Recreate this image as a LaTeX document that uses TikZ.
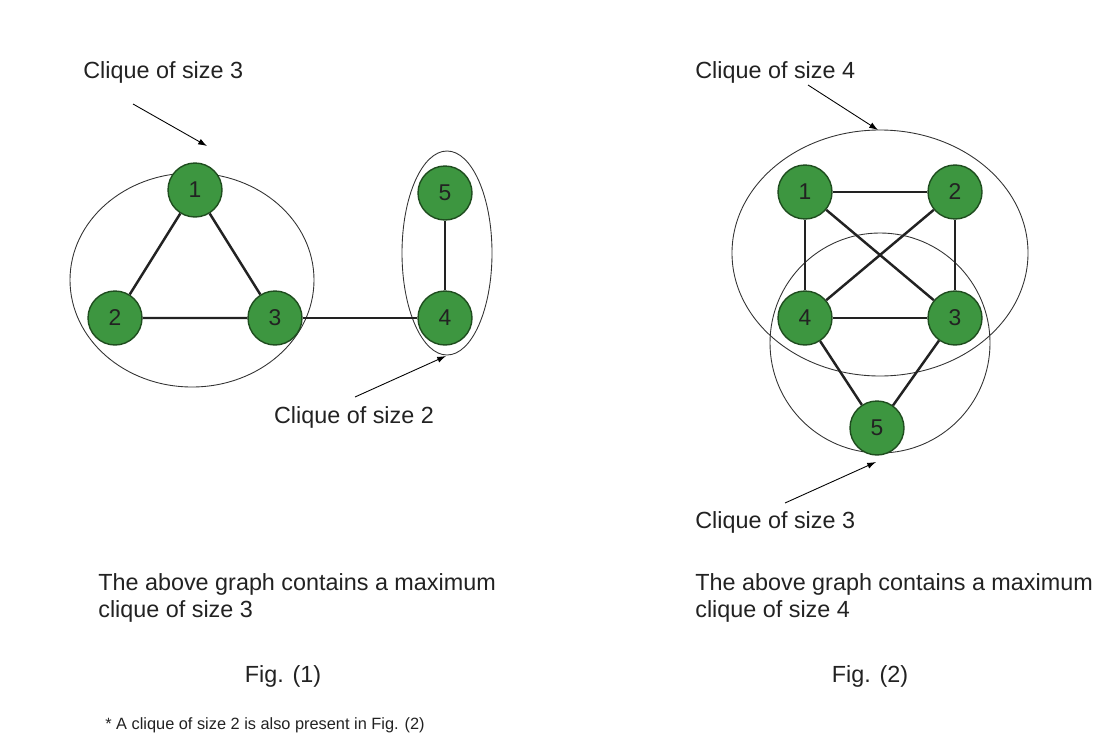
\documentclass[tikz,border=0pt]{standalone}
\usepackage{fontspec}
\setmainfont{Liberation Sans}
\usetikzlibrary{arrows.meta}
\definecolor{vgreen}{HTML}{3D9640}
\definecolor{vedge}{HTML}{1F4D1F}
\definecolor{ink}{HTML}{222222}
\tikzset{
  vertex/.style={circle,draw=vedge,fill=vgreen,line width=0.8pt,
    minimum size=1.08cm,inner sep=0pt,text=ink,font=\fontsize{13}{15}\selectfont},
  link/.style={line width=1.4pt,draw=ink},
  hull/.style={line width=0.5pt,draw=black!80},
  pointer/.style={line width=0.5pt,-{Latex[length=5pt,width=3.5pt]}},
  label/.style={font=\fontsize{13.3}{16}\selectfont,inner sep=0pt,text=ink},
}
\begin{document}
\begin{tikzpicture}[x=0.02cm,y=-0.02cm]
  \useasboundingbox (0,0) rectangle (1118,750);
  % Fig. (1)
  \draw[hull] (192,280) ellipse (122 and 107);
  \draw[hull] (447,253) ellipse (45 and 102);
  \coordinate (one) at (195,190);
  \coordinate (two) at (115,318);
  \coordinate (three) at (275,318);
  \coordinate (four) at (445,318);
  \coordinate (five) at (445,193);
  \foreach \n/\t in {one/1,two/2,three/3,four/4,five/5}
    \node[vertex] (a\n) at (\n) {\t};
  \draw[link] (aone) -- (atwo) -- (athree) -- (aone);
  \draw[link] (athree) -- (afour) -- (afive);
  \node[label,anchor=west] (ta) at (83,72) {Clique of size 3};
  \node[label] (tb) at (354,417) {Clique of size 2};
  \coordinate (ha) at (207,146);
  \coordinate (hb) at (446,356);
  \draw[pointer] (133,104) -- (ha);
  \draw[pointer] (355,397) -- (hb);
  \node[label,anchor=west,align=left] (capa) at (98,598)
    {The above graph contains a maximum\\[-1pt]clique of size 3};
  \node[label] (figa) at (283,676) {Fig. (1)};
  \node[anchor=west,inner sep=0pt,text=ink,font=\fontsize{9.3}{11}\selectfont] (note) at (105,725)
    {* A clique of size 2 is also present in Fig. (2)};
  % Fig. (2)
  \draw[hull] (880,253) ellipse (148 and 123);
  \draw[hull] (880,343) circle (110);
  \coordinate (one) at (805,192);
  \coordinate (two) at (955,192);
  \coordinate (three) at (955,318);
  \coordinate (four) at (805,318);
  \coordinate (five) at (877,428);
  \foreach \n/\t in {one/1,two/2,three/3,four/4,five/5}
    \node[vertex] (b\n) at (\n) {\t};
  \draw[link] (bone) -- (btwo) -- (bthree) -- (bfour) -- (bone);
  \draw[link] (bone) -- (bthree);
  \draw[link] (btwo) -- (bfour);
  \draw[link] (bfour) -- (bfive) -- (bthree);
  \node[label,anchor=west] (tc) at (695,72) {Clique of size 4};
  \node[label,anchor=west] (td) at (695,522) {Clique of size 3};
  \coordinate (hc) at (878,130);
  \coordinate (hd) at (876,462);
  \draw[pointer] (808,85) -- (hc);
  \draw[pointer] (785,503) -- (hd);
  \node[label,anchor=west,align=left] (capb) at (695,598)
    {The above graph contains a maximum\\[-1pt]clique of size 4};
  \node[label] (figb) at (870,676) {Fig. (2)};
\end{tikzpicture}
\end{document}
